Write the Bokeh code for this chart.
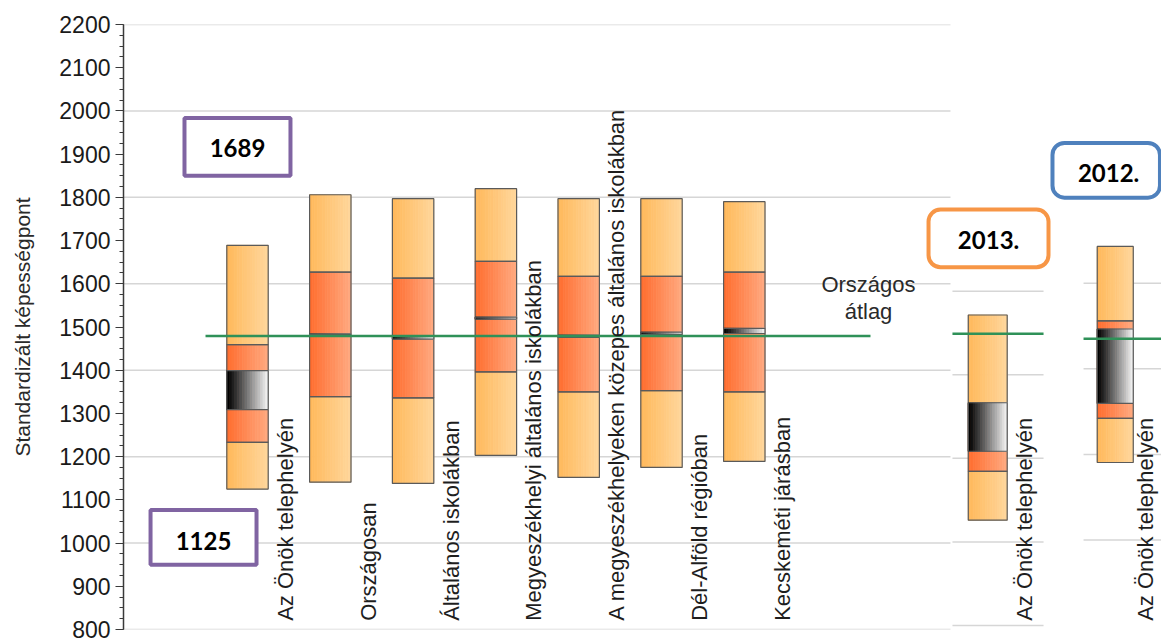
import numpy as np
from bokeh.plotting import figure
from bokeh.models import Range1d, SingleIntervalTicker, BoxAnnotation, Label, ColumnDataSource
from bokeh.embed import file_html
from bokeh.resources import INLINE
from bokeh.core.properties import value

# ---------------- data ----------------
categories = [
    "Az Önök telephelyén",
    "Országosan",
    "Általános iskolákban",
    "Megyeszékhelyi általános iskolákban",
    "A megyeszékhelyeken közepes általános iskolákban",
    "Dél-Alföld régióban",
    "Kecskeméti járásban",
]
p5 = [1125, 1141, 1138, 1203, 1152, 1175, 1189]
p25 = [1233, 1339, 1336, 1396, 1350, 1353, 1350]
p75 = [1459, 1627, 1613, 1652, 1617, 1617, 1627]
p95 = [1689, 1806, 1797, 1820, 1797, 1797, 1790]
ci_lo = [1309, 1481, 1472, 1518, 1476, 1483, 1485]
ci_hi = [1399, 1484, 1478, 1523, 1481, 1488, 1497]
national_avg = 1479

years = ["2013.", "2012."]
inset_label = "Az Önök telephelyén"
inset_p5 = [1052, 1181]
inset_p25 = [1169, 1284]
inset_p75 = [1330, 1512]
inset_p95 = [1543, 1686]
inset_ci_lo = [1217, 1319]
inset_ci_hi = [1333, 1493]
inset_avg = [1498, 1470]

main_grid = [800, 1000, 1200, 1400, 1600, 1800, 2000, 2200]
inset_grids = [[800, 1000, 1200, 1400, 1600], [1000, 1200, 1400, 1600]]

y_title = "Standardizált képességpont"
avg_title = ["Országos", "átlag"]

# ---------------- layout / style ----------------
W, H = 1161, 642
X0, X1 = -1.4976, 11.0386
LIGHT = ((255, 185, 92), (255, 214, 154))
DARK = ((255, 110, 48), (255, 168, 126))
CIG = ((0, 0, 0), (238, 238, 238))
EDGE = "#5a5a5a"
GREEN = "#2f9158"
GRID = "#d6d6d6"
NSTRIP = 16
FONT = "Liberation Sans"


def hexc(c):
    return "#%02x%02x%02x" % tuple(int(round(v)) for v in c)


def grad(pal, n):
    c0, c1 = pal
    return [hexc([a + (b - a) * k / (n - 1) for a, b in zip(c0, c1)]) for k in range(n)]


p = figure(width=W, height=H, output_backend="svg", toolbar_location=None,
           x_range=Range1d(X0, X1), y_range=Range1d(800, 2200),
           x_axis_location=None, min_border_left=123, min_border_right=0,
           min_border_top=24, min_border_bottom=13,
           background_fill_color="white", border_fill_color="white")
p.outline_line_color = None
p.grid.visible = False
p.extra_y_ranges = {"y13": Range1d(790.5, 2238.1), "y12": Range1d(790.7, 2204.7)}

ax = p.yaxis[0]
ax.ticker = SingleIntervalTicker(interval=100, num_minor_ticks=4)
ax.axis_label = y_title
ax.axis_label_text_font = FONT
ax.axis_label_text_font_size = "21px"
ax.axis_label_text_font_style = "normal"
ax.axis_label_text_color = "#2a2a2a"
ax.axis_label_standoff = 22
ax.major_label_text_font = FONT
ax.major_label_text_font_size = "23px"
ax.major_label_text_color = "#1a1a1a"
ax.major_label_standoff = 5
ax.major_tick_out = 8
ax.major_tick_in = 0
ax.minor_tick_out = 4
ax.minor_tick_in = 0
ax.axis_line_color = "#3a3a3a"
ax.major_tick_line_color = "#3a3a3a"
ax.minor_tick_line_color = "#3a3a3a"
ax.axis_line_width = 1.5

# gridlines
p.segment(x0=[X0] * len(main_grid), x1=[8.49] * len(main_grid), y0=main_grid, y1=main_grid,
          line_color=GRID, line_width=1.5)
inset_spans = [(8.514, 9.614), (10.097, 11.04)]
inset_ranges = ["y13", "y12"]
for (a, b), g, rn in zip(inset_spans, inset_grids, inset_ranges):
    p.segment(x0=[a] * len(g), x1=[b] * len(g), y0=g, y1=g, line_color=GRID, line_width=1.5,
              y_range_name=rn)


def draw_bars(xcs, w, P5, P25, P75, P95, LO, HI, rn):
    fills = dict(left=[], right=[], bottom=[], top=[], color=[])
    outl = dict(left=[], right=[], bottom=[], top=[])
    cif = dict(left=[], right=[], bottom=[], top=[], color=[])
    cio = dict(left=[], right=[], bottom=[], top=[])
    for xc, a, b, c, d, lo, hi in zip(xcs, P5, P25, P75, P95, LO, HI):
        l, r = xc - w / 2, xc + w / 2
        edges = np.linspace(l, r, NSTRIP + 1)
        for bot, top, pal in [(a, b, LIGHT), (b, c, DARK), (c, d, LIGHT)]:
            cols = grad(pal, NSTRIP)
            for k in range(NSTRIP):
                fills["left"].append(edges[k]); fills["right"].append(edges[k + 1])
                fills["bottom"].append(bot); fills["top"].append(top)
                fills["color"].append(cols[k])
            outl["left"].append(l); outl["right"].append(r)
            outl["bottom"].append(bot); outl["top"].append(top)
        cols = grad(CIG, NSTRIP)
        for k in range(NSTRIP):
            cif["left"].append(edges[k]); cif["right"].append(edges[k + 1])
            cif["bottom"].append(lo); cif["top"].append(hi); cif["color"].append(cols[k])
        cio["left"].append(l); cio["right"].append(r)
        cio["bottom"].append(lo); cio["top"].append(hi)
    p.quad(left="left", right="right", bottom="bottom", top="top", fill_color="color",
           line_color="color", line_width=0.8, source=ColumnDataSource(fills), y_range_name=rn)
    p.quad(left="left", right="right", bottom="bottom", top="top", fill_color=None,
           line_color=EDGE, line_width=1.2, source=ColumnDataSource(outl), y_range_name=rn)
    p.quad(left="left", right="right", bottom="bottom", top="top", fill_color="color",
           line_color="color", line_width=0.8, source=ColumnDataSource(cif), y_range_name=rn)
    p.quad(left="left", right="right", bottom="bottom", top="top", fill_color=None,
           line_color=EDGE, line_width=1.2, source=ColumnDataSource(cio), y_range_name=rn)


xs = list(range(len(categories)))
draw_bars(xs, 0.5, p5, p25, p75, p95, ci_lo, ci_hi, "default")
inset_x = [8.94, 10.48]
inset_w = [0.47, 0.435]
for i in range(2):
    draw_bars([inset_x[i]], inset_w[i], [inset_p5[i]], [inset_p25[i]], [inset_p75[i]],
              [inset_p95[i]], [inset_ci_lo[i]], [inset_ci_hi[i]], inset_ranges[i])

# national average lines
p.segment(x0=[-0.507], x1=[7.524], y0=[national_avg], y1=[national_avg],
          line_color=GREEN, line_width=2.5)
for (a, b), v, rn in zip(inset_spans, inset_avg, inset_ranges):
    p.segment(x0=[a], x1=[b], y0=[v], y1=[v], line_color=GREEN, line_width=2.5, y_range_name=rn)

# rotated category labels
lab_x = [x + 0.46 for x in xs] + [inset_x[0] + 0.45, inset_x[1] + 0.37]
lab_t = categories + [inset_label, inset_label]
p.text(x=lab_x, y=[820] * len(lab_x), text=lab_t, angle=np.pi / 2,
       text_align="left", text_baseline="middle", text_font=value(FONT),
       text_font_size=value("22px"), text_color="#1e1e1e")

# "Országos átlag"
p.text(x=[7.5, 7.5], y=[1599, 1537], text=avg_title, text_align="center",
       text_baseline="middle", text_font=value(FONT), text_font_size=value("22px"),
       text_color="#2a2a2a")

# callout boxes
boxes = [
    (-0.761, 0.519, 1983.6, 1850.0, "#8064a2", 0, -0.121, 1915, str(p95[0])),
    (-1.171, 0.109, 1076.3, 949.7, "#8064a2", 0, -0.531, 1004, str(p5[0])),
    (8.225, 9.674, 1771.7, 1638.2, "#f79646", 12, 8.95, 1702, years[0]),
    (9.722, 11.02, 1926.0, 1799.3, "#4f81bd", 12, 10.40, 1856, years[1]),
]
for l, r, t, b, col, rad, tx, ty, txt in boxes:
    p.add_layout(BoxAnnotation(left=l, right=r, top=t, bottom=b, fill_color="white",
                               fill_alpha=1.0, line_color=col, line_width=4, line_alpha=1.0,
                               border_radius=rad))
    p.add_layout(Label(x=tx, y=ty, text=txt, text_align="center", text_baseline="middle",
                       text_font="Lato", text_font_style="bold", text_font_size="24px",
                       text_color="black"))

open("out.html", "w").write(file_html(p, INLINE))
